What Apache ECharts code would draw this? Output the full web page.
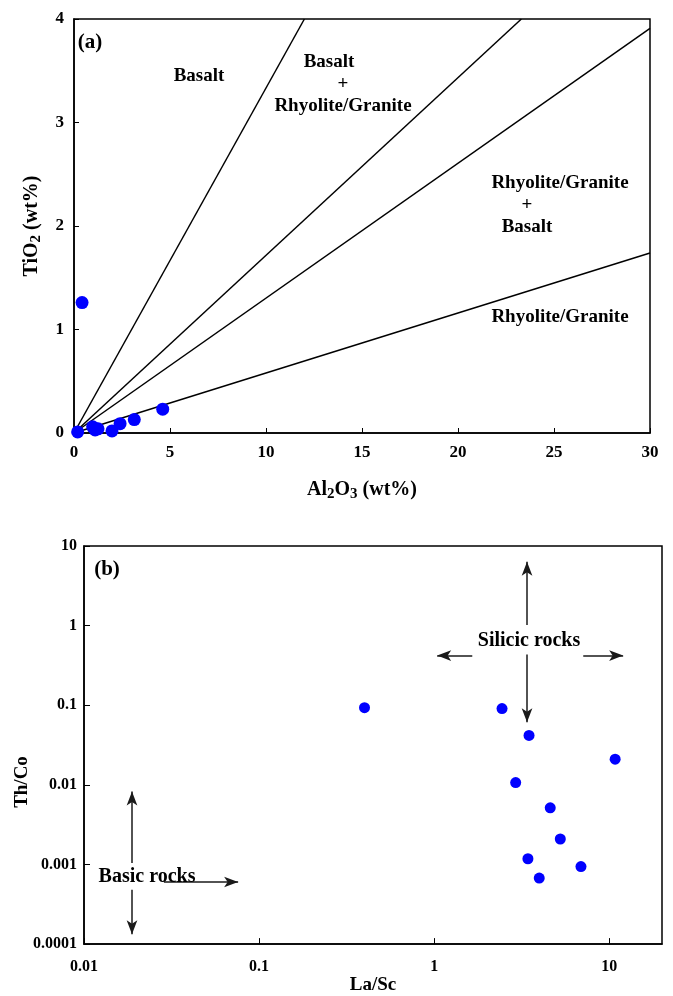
<!DOCTYPE html>
<html>
<head>
<meta charset="utf-8">
<script src="https://cdn.jsdelivr.net/npm/echarts@6/dist/echarts.min.js"></script>
<style>
  html, body { margin: 0; padding: 0; background: #fff; }
  #chart { width: 673px; height: 996px; }
</style>
</head>
<body>
<div id="chart"></div>
<script>
// Panel (a): TiO2 vs Al2O3 (wt%)
const al2o3 = [0.19, 0.42, 0.97, 1.10, 1.25, 1.98, 2.40, 3.14, 4.62];
const tio2  = [0.01, 1.26, 0.06, 0.03, 0.04, 0.02, 0.09, 0.13, 0.23];

// Discrimination lines through the origin: end points [Al2O3, TiO2]
const divLines = [
  [[0, 0], [12.0, 4.0]],
  [[0, 0], [23.3, 4.0]],
  [[0, 0], [30.0, 3.91]],
  [[0, 0], [30.0, 1.74]]
];
const aTicksX = [0, 5, 10, 15, 20, 25, 30];
const aTicksY = [0, 1, 2, 3, 4];

// Panel (b): Th/Co vs La/Sc
const laSc = [0.40, 2.44, 3.48, 10.8, 2.92, 4.60, 5.25, 3.43, 6.89, 3.98];
const thCo = [0.0933, 0.0908, 0.0417, 0.0210, 0.0107, 0.00515, 0.00209, 0.00118, 0.000942, 0.000675];
const bTicksX = ['0.01', '0.1', '1', '10'];
const bTicksY = ['0.0001', '0.001', '0.01', '0.1', '1', '10'];

// Field arrows in panel (b): [from, to] in data units
const arrowsB = [
  [[3.39, 1.02], [3.39, 6.34]],
  [[3.39, 0.435], [3.39, 0.061]],
  [[1.65, 0.42], [1.04, 0.42]],
  [[7.1, 0.42], [12.0, 0.42]],
  [[0.0188, 0.00104], [0.0188, 0.00828]],
  [[0.0188, 0.00048], [0.0188, 0.000133]],
  [[0.0286, 0.000602], [0.0759, 0.000602]]
];

const FONT = '"Liberation Serif", "Times New Roman", serif';
const chart = echarts.init(document.getElementById('chart'));

const labelStyleA = { color: '#000', fontFamily: FONT, fontWeight: 'bold', fontSize: 17 };
const labelStyleB = { color: '#000', fontFamily: FONT, fontWeight: 'bold', fontSize: 16 };

function txt(x, y, text, size, rotation) {
  return {
    type: 'text', x: x, y: y, z: 10, rotation: rotation || 0,
    style: { text: text, fill: '#000', font: 'bold ' + (size || 19) + 'px ' + FONT, align: 'center', verticalAlign: 'middle' }
  };
}

const subRich = {
  b: { fontFamily: FONT, fontWeight: 'bold', fontSize: 20, color: '#000' },
  s: { fontFamily: FONT, fontWeight: 'bold', fontSize: 15, color: '#000', verticalAlign: 'bottom', padding: [9, 0, 0, 0] }
};

const logLabel = ticks => v => ticks.find(t => Math.abs(parseFloat(t) - v) / v < 1e-6) || '';

const option = {
  animation: false,
  backgroundColor: '#fff',
  grid: [
    { left: 74, top: 19, width: 576, height: 414, show: true, borderColor: '#000', borderWidth: 1.5, backgroundColor: 'transparent' },
    { left: 84, top: 546, width: 578, height: 404, show: true, borderColor: '#000', borderWidth: 1.5, backgroundColor: 'transparent' }
  ],
  xAxis: [
    {
      gridIndex: 0, type: 'value', min: 0, max: 30, interval: 5,
      axisLine: { show: true, lineStyle: { color: '#000', width: 1.5 } },
      axisTick: { show: true, inside: true, length: 5, lineStyle: { color: '#000' } },
      axisLabel: Object.assign({ margin: 11, formatter: v => aTicksX.includes(v) ? String(v) : '' }, labelStyleA),
      splitLine: { show: false },
      name: '{b|Al}{s|2}{b|O}{s|3}{b| (wt%)}', nameLocation: 'middle', nameGap: 45,
      nameTextStyle: { rich: subRich }
    },
    {
      gridIndex: 1, type: 'log', min: 0.01, max: 20, logBase: 10,
      axisLine: { show: true, lineStyle: { color: '#000', width: 1.5 } },
      axisTick: { show: true, inside: true, length: 6, lineStyle: { color: '#000' } },
      minorTick: { show: false },
      axisLabel: Object.assign({ margin: 15, showMaxLabel: false, formatter: logLabel(bTicksX) }, labelStyleB),
      splitLine: { show: false },
      name: 'La/Sc', nameLocation: 'middle', nameGap: 27,
      nameTextStyle: { fontFamily: FONT, fontWeight: 'bold', fontSize: 19, color: '#000' }
    }
  ],
  yAxis: [
    {
      gridIndex: 0, type: 'value', min: 0, max: 4, interval: 1,
      axisLine: { show: true, lineStyle: { color: '#000', width: 1.5 } },
      axisTick: { show: true, inside: true, length: 5, lineStyle: { color: '#000' } },
      axisLabel: Object.assign({ margin: 10, formatter: v => aTicksY.includes(v) ? String(v) : '' }, labelStyleA),
      splitLine: { show: false },
      name: '{b|TiO}{s|2}{b| (wt%)}', nameLocation: 'middle', nameGap: 30,
      nameTextStyle: { rich: subRich }
    },
    {
      gridIndex: 1, type: 'log', min: 0.0001, max: 10, logBase: 10,
      axisLine: { show: true, lineStyle: { color: '#000', width: 1.5 } },
      axisTick: { show: true, inside: true, length: 6, lineStyle: { color: '#000' } },
      minorTick: { show: false },
      axisLabel: Object.assign({ margin: 7, formatter: logLabel(bTicksY) }, labelStyleB),
      splitLine: { show: false }
    }
  ],
  series: [
    ...divLines.map(seg => ({
      type: 'line', xAxisIndex: 0, yAxisIndex: 0, data: seg, symbol: 'none',
      lineStyle: { color: '#000', width: 1.5 }, silent: true, z: 2
    })),
    {
      type: 'scatter', xAxisIndex: 0, yAxisIndex: 0,
      data: al2o3.map((v, i) => [v, tio2[i]]),
      symbol: 'circle', symbolSize: 13, itemStyle: { color: '#0000FF', opacity: 1 }, z: 5
    },
    {
      type: 'scatter', xAxisIndex: 1, yAxisIndex: 1,
      data: laSc.map((v, i) => [v, thCo[i]]),
      symbol: 'circle', symbolSize: 11, itemStyle: { color: '#0000FF', opacity: 1 }, z: 5,
      markLine: {
        silent: true, animation: false,
        symbol: ['none', 'arrow'], symbolSize: [8, 14],
        label: { show: false },
        lineStyle: { color: '#1a1a1a', width: 1.5, type: 'solid' },
        emphasis: { disabled: true },
        data: arrowsB.map(seg => [{ coord: seg[0] }, { coord: seg[1] }])
      }
    }
  ],
  graphic: [
    txt(90, 43, '(a)', 21),
    txt(199, 76, 'Basalt'),
    txt(329, 62, 'Basalt'),
    txt(343, 84, '+'),
    txt(343, 106, 'Rhyolite/Granite'),
    txt(560, 183, 'Rhyolite/Granite'),
    txt(527, 205, '+'),
    txt(527, 227, 'Basalt'),
    txt(560, 317, 'Rhyolite/Granite'),
    txt(107, 570, '(b)', 21),
    txt(529, 641, 'Silicic rocks', 20),
    txt(147, 877, 'Basic rocks', 20),
    txt(22, 782, 'Th/Co', 19, Math.PI / 2)
  ]
};

chart.setOption(option);
</script>
</body>
</html>
